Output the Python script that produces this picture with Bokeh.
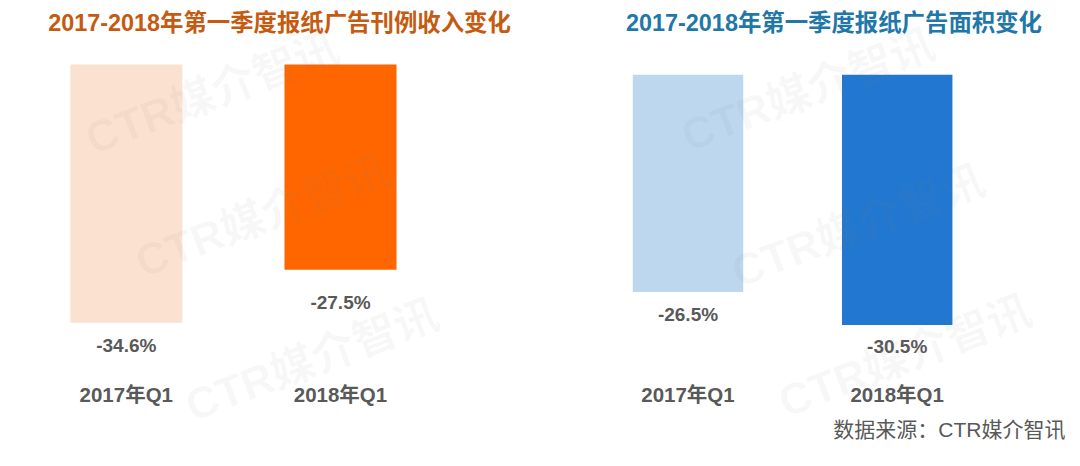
import math
from bokeh.plotting import figure
from bokeh.models import ColumnDataSource, LabelSet, Label, Range1d
from bokeh.layouts import row
from bokeh.core.properties import value
from bokeh.embed import file_html
from bokeh.resources import INLINE

# ---- data ----
categories = ["2017年Q1", "2018年Q1"]
revenue_change = [-34.6, -27.5]   # 报纸广告刊例收入变化 (%)
area_change = [-26.5, -30.5]      # 报纸广告面积变化 (%)
title_left = "2017-2018年第一季度报纸广告刊例收入变化"
title_right = "2017-2018年第一季度报纸广告面积变化"
source_note = "数据来源：CTR媒介智讯"
watermark_text = "CTR媒介智讯"

# ---- styles ----
FONT = "Liberation Sans, Noto Sans CJK SC, sans-serif"
TEXT_GRAY = "#595959"
W, H = 540, 450


def panel(values, colors, title, title_color, title_x, xr, yr, bar_w,
          label_dy, marks):
    p = figure(width=W, height=H, output_backend="svg", toolbar_location=None,
               x_range=Range1d(*xr), y_range=Range1d(*yr), min_border=0,
               background_fill_color="white", border_fill_color="white",
               outline_line_color=None)
    p.axis.visible = False
    p.grid.visible = False

    src = ColumnDataSource(dict(
        x=list(range(len(categories))),
        v=values,
        cat=categories,
        lab=[f"{v:.1f}%" for v in values],
        color=colors,
        dy=[-d for d in label_dy],
    ))
    p.vbar(x="x", top=0, bottom="v", width=bar_w, fill_color="color",
           line_color=None, source=src)

    p.add_layout(LabelSet(x="x", y="v", text="lab", y_offset="dy", source=src,
                          text_align="center", text_baseline="middle",
                          text_font=value(FONT), text_font_size="19px",
                          text_font_style="bold", text_color=TEXT_GRAY))
    p.add_layout(LabelSet(x="x", y=H - 394, y_units="screen", text="cat",
                          source=src, text_align="center",
                          text_baseline="middle", text_font=value(FONT),
                          text_font_size="20.5px", text_font_style="bold",
                          text_color=TEXT_GRAY))

    for (mx, my) in marks:
        p.add_layout(Label(x=mx, y=my, x_units="screen", y_units="screen",
                           text=watermark_text, angle=math.radians(21),
                           text_align="left", text_baseline="alphabetic",
                           text_font=FONT, text_font_size="44px",
                           text_font_style="bold", text_color="#808080",
                           text_alpha=0.06))

    p.add_layout(Label(x=title_x, y=H - 22, x_units="screen",
                       y_units="screen", text=title, text_align="center",
                       text_baseline="middle", text_font=FONT,
                       text_font_size="23.4px", text_font_style="bold",
                       text_color=title_color))
    return p


left = panel(revenue_change, ["#FBE2D0", "#FF6600"], title_left, "#C55A11",
             279, (-0.5873, 1.9337), (-51.74, 8.579), 0.523, [23, 33],
             [(87, 310), (137, 187), (187, 43)])

right = panel(area_change, ["#BDD7EE", "#2277D0"], title_right, "#1F78A8",
              293.5, (-0.7051, 1.8762), (-45.817, 9.061), 0.528, [22, 22],
              [(143, 313), (193, 177), (240, 47)])

right.add_layout(Label(x=525, y=H - 429, x_units="screen",
                       y_units="screen", text=source_note, text_align="right",
                       text_baseline="middle", text_font=FONT,
                       text_font_size="21px", text_color=TEXT_GRAY))

layout = row(left, right, spacing=0)
open("out.html", "w").write(file_html(layout, INLINE))
